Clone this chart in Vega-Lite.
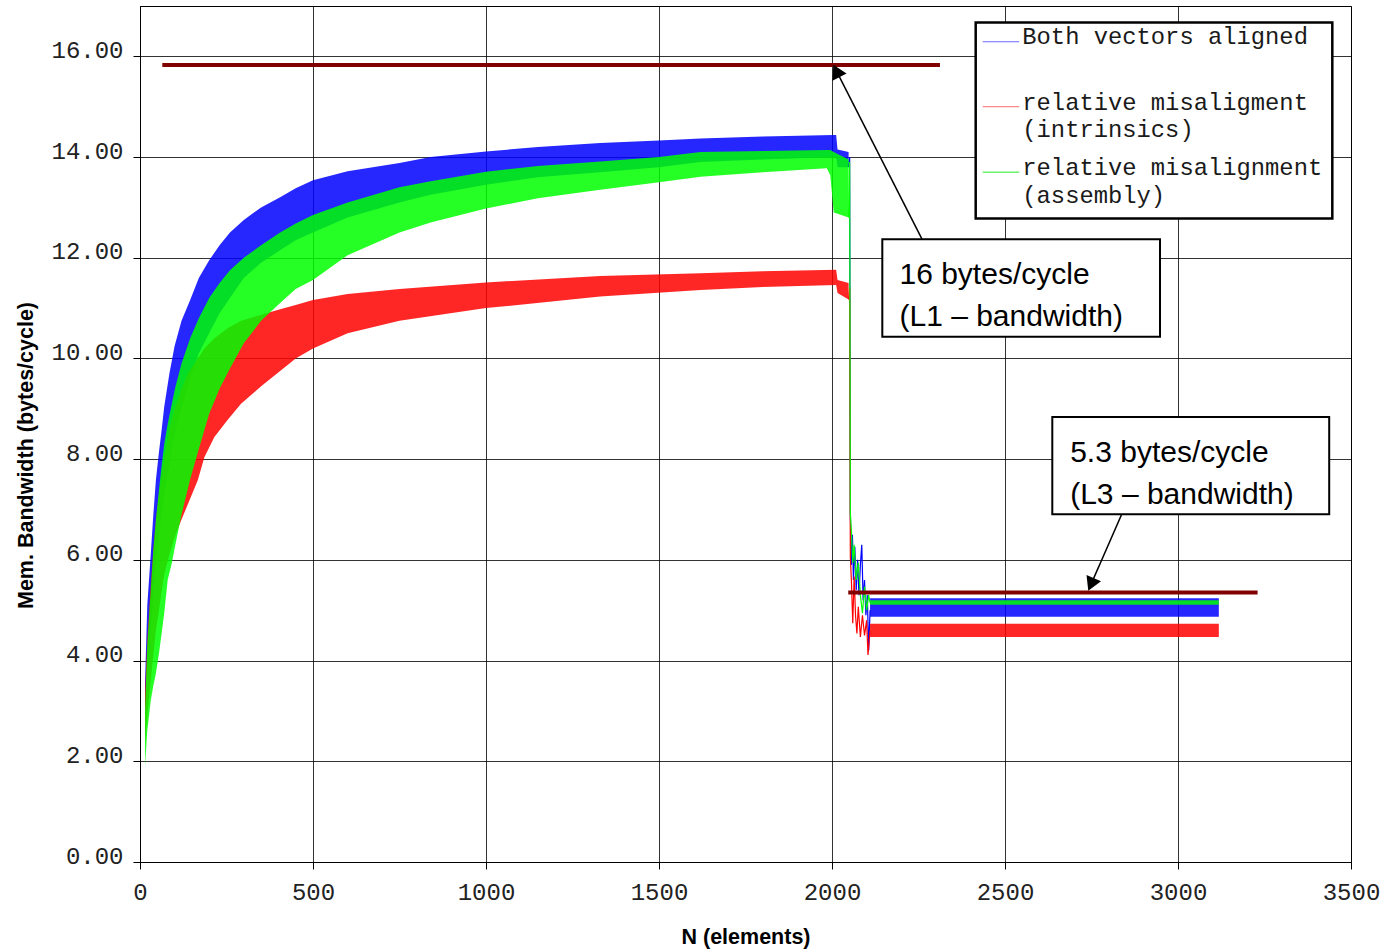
{
  "$schema": "https://vega.github.io/schema/vega-lite/v6.json",
  "width": 1211,
  "height": 856,
  "autosize": {"type": "none"},
  "padding": {"left": 140, "top": 6, "right": 33, "bottom": 90},
  "background": "white",
  "config": {
    "view": {"stroke": "#000", "strokeWidth": 1},
    "axis": {
      "labelFont": "Liberation Mono", "labelFontSize": 24, "labelColor": "#222",
      "tickColor": "#000", "tickSize": 7, "domainColor": "#000",
      "gridColor": "#000", "gridOpacity": 0.8,
      "titleFont": "Liberation Sans", "titleFontSize": 21.5, "titleFontWeight": "bold", "titleColor": "#000",
      "labelOverlap": false, "labelFlush": false
    }
  },
  "datasets": {
    "blueBand": [
      {"seg":1,"n":14.5,"lo":2.9,"hi":3.55},{"seg":1,"n":21,"lo":3.6,"hi":5.1},{"seg":1,"n":31,"lo":4.6,"hi":6.1},
      {"seg":1,"n":38.5,"lo":5.3,"hi":6.89},{"seg":1,"n":46,"lo":5.9,"hi":7.59},{"seg":1,"n":55,"lo":6.5,"hi":8.15},
      {"seg":1,"n":63,"lo":6.9,"hi":8.61},{"seg":1,"n":70,"lo":7.3,"hi":9.04},{"seg":1,"n":85,"lo":7.9,"hi":9.7},
      {"seg":1,"n":100,"lo":8.5,"hi":10.25},{"seg":1,"n":120,"lo":9.0,"hi":10.75},{"seg":1,"n":145,"lo":9.6,"hi":11.16},
      {"seg":1,"n":170,"lo":10.1,"hi":11.6},{"seg":1,"n":200,"lo":10.5,"hi":11.95},{"seg":1,"n":230,"lo":10.9,"hi":12.25},
      {"seg":1,"n":260,"lo":11.2,"hi":12.5},{"seg":1,"n":300,"lo":11.6,"hi":12.75},{"seg":1,"n":350,"lo":11.9,"hi":13.0},
      {"seg":1,"n":405,"lo":12.15,"hi":13.2},{"seg":1,"n":450,"lo":12.35,"hi":13.38},{"seg":1,"n":500,"lo":12.5,"hi":13.54},
      {"seg":1,"n":600,"lo":12.8,"hi":13.72},{"seg":1,"n":750,"lo":13.1,"hi":13.88},{"seg":1,"n":840,"lo":13.25,"hi":14.0},
      {"seg":1,"n":1000,"lo":13.45,"hi":14.11},{"seg":1,"n":1150,"lo":13.6,"hi":14.2},{"seg":1,"n":1330,"lo":13.7,"hi":14.28},
      {"seg":1,"n":1500,"lo":13.8,"hi":14.33},{"seg":1,"n":1620,"lo":13.9,"hi":14.37},{"seg":1,"n":1800,"lo":13.95,"hi":14.41},
      {"seg":1,"n":2005,"lo":14.0,"hi":14.44},{"seg":1,"n":2012,"lo":14.0,"hi":14.44},{"seg":1,"n":2016,"lo":13.8,"hi":14.15},
      {"seg":1,"n":2048,"lo":13.8,"hi":14.1},
      {"seg":2,"n":2110,"lo":4.87,"hi":5.24},{"seg":2,"n":2600,"lo":4.87,"hi":5.24},{"seg":2,"n":3118,"lo":4.87,"hi":5.24}
    ],
    "redBand": [
      {"seg":1,"n":14.5,"lo":2.36,"hi":3.35},{"seg":1,"n":21,"lo":2.9,"hi":4.4},{"seg":1,"n":31,"lo":3.6,"hi":5.5},
      {"seg":1,"n":38.5,"lo":4.1,"hi":6.2},{"seg":1,"n":46,"lo":4.6,"hi":6.8},{"seg":1,"n":55,"lo":5.0,"hi":7.3},
      {"seg":1,"n":63,"lo":5.4,"hi":7.7},{"seg":1,"n":70,"lo":5.7,"hi":8.0},{"seg":1,"n":85,"lo":6.1,"hi":8.6},
      {"seg":1,"n":100,"lo":6.45,"hi":9.0},{"seg":1,"n":120,"lo":6.8,"hi":9.4},{"seg":1,"n":138,"lo":7.1,"hi":9.7},
      {"seg":1,"n":167,"lo":7.58,"hi":10.0},{"seg":1,"n":186,"lo":8.04,"hi":10.2},{"seg":1,"n":215,"lo":8.44,"hi":10.4},
      {"seg":1,"n":253,"lo":8.78,"hi":10.6},{"seg":1,"n":292,"lo":9.1,"hi":10.75},{"seg":1,"n":350,"lo":9.45,"hi":10.87},
      {"seg":1,"n":405,"lo":9.75,"hi":10.98},{"seg":1,"n":450,"lo":10.0,"hi":11.06},{"seg":1,"n":500,"lo":10.2,"hi":11.16},
      {"seg":1,"n":600,"lo":10.5,"hi":11.28},{"seg":1,"n":750,"lo":10.75,"hi":11.38},{"seg":1,"n":1000,"lo":11.0,"hi":11.51},
      {"seg":1,"n":1330,"lo":11.23,"hi":11.64},{"seg":1,"n":1620,"lo":11.36,"hi":11.69},{"seg":1,"n":1800,"lo":11.42,"hi":11.73},
      {"seg":1,"n":2012,"lo":11.46,"hi":11.76},{"seg":1,"n":2016,"lo":11.3,"hi":11.56},{"seg":1,"n":2048,"lo":11.17,"hi":11.5},
      {"seg":2,"n":2110,"lo":4.47,"hi":4.73},{"seg":2,"n":2600,"lo":4.47,"hi":4.73},{"seg":2,"n":3118,"lo":4.47,"hi":4.73}
    ],
    "greenBand": [
      {"seg":1,"n":14.5,"lo":1.9,"hi":3.0},{"seg":1,"n":21,"lo":2.6,"hi":4.3},{"seg":1,"n":31,"lo":3.2,"hi":5.4},
      {"seg":1,"n":38.5,"lo":3.5,"hi":6.2},{"seg":1,"n":46,"lo":3.75,"hi":6.8},{"seg":1,"n":55,"lo":4.15,"hi":7.4},
      {"seg":1,"n":63,"lo":4.57,"hi":7.9},{"seg":1,"n":70,"lo":4.94,"hi":8.3},{"seg":1,"n":80,"lo":5.6,"hi":8.7},
      {"seg":1,"n":92,"lo":5.94,"hi":9.1},{"seg":1,"n":101,"lo":6.26,"hi":9.4},{"seg":1,"n":120,"lo":6.9,"hi":9.9},
      {"seg":1,"n":145,"lo":7.6,"hi":10.4},{"seg":1,"n":170,"lo":8.2,"hi":10.8},{"seg":1,"n":200,"lo":8.9,"hi":11.2},
      {"seg":1,"n":230,"lo":9.4,"hi":11.5},{"seg":1,"n":260,"lo":9.8,"hi":11.75},{"seg":1,"n":300,"lo":10.3,"hi":12.0},
      {"seg":1,"n":350,"lo":10.75,"hi":12.25},{"seg":1,"n":405,"lo":11.1,"hi":12.5},{"seg":1,"n":450,"lo":11.38,"hi":12.68},
      {"seg":1,"n":500,"lo":11.56,"hi":12.85},{"seg":1,"n":600,"lo":12.05,"hi":13.1},{"seg":1,"n":750,"lo":12.5,"hi":13.4},
      {"seg":1,"n":840,"lo":12.7,"hi":13.52},{"seg":1,"n":1000,"lo":12.98,"hi":13.71},{"seg":1,"n":1150,"lo":13.18,"hi":13.82},
      {"seg":1,"n":1330,"lo":13.35,"hi":13.91},{"seg":1,"n":1500,"lo":13.5,"hi":14.0},{"seg":1,"n":1620,"lo":13.61,"hi":14.1},
      {"seg":1,"n":1800,"lo":13.7,"hi":14.12},{"seg":1,"n":1985,"lo":13.78,"hi":14.14},{"seg":1,"n":1995,"lo":13.64,"hi":14.14},
      {"seg":1,"n":2005,"lo":12.9,"hi":14.1},{"seg":1,"n":2048,"lo":12.8,"hi":13.95},
      {"seg":2,"n":2110,"lo":5.11,"hi":5.2},{"seg":2,"n":2600,"lo":5.11,"hi":5.2},{"seg":2,"n":3118,"lo":5.11,"hi":5.2}
    ],
    "blueDrop": [
      {"n":2048,"v":13.8},{"n":2051,"v":14.0},{"n":2053,"v":6.93},{"n":2056,"v":5.9},{"n":2059,"v":6.5},{"n":2062,"v":5.6},
      {"n":2066,"v":6.26},{"n":2070,"v":5.4},{"n":2074,"v":6.0},{"n":2078,"v":5.3},{"n":2082,"v":5.9},{"n":2086,"v":6.3},
      {"n":2090,"v":5.2},{"n":2094,"v":5.6},{"n":2098,"v":4.9},{"n":2102,"v":5.3},{"n":2106,"v":4.2},{"n":2110,"v":5.0}
    ],
    "redDrop": [
      {"n":2048,"v":11.17},{"n":2051,"v":11.4},{"n":2053,"v":6.06},{"n":2056,"v":5.6},{"n":2060,"v":4.74},{"n":2064,"v":5.67},
      {"n":2068,"v":4.9},{"n":2072,"v":4.54},{"n":2076,"v":5.07},{"n":2082,"v":4.47},{"n":2088,"v":4.9},{"n":2094,"v":4.5},
      {"n":2100,"v":4.8},{"n":2104,"v":4.11},{"n":2110,"v":4.6}
    ],
    "greenDrop": [
      {"n":2048,"v":12.8},{"n":2051,"v":13.9},{"n":2053,"v":6.93},{"n":2056,"v":6.59},{"n":2060,"v":5.94},{"n":2064,"v":6.3},
      {"n":2070,"v":5.6},{"n":2076,"v":5.94},{"n":2082,"v":5.3},{"n":2088,"v":4.94},{"n":2094,"v":5.47},{"n":2100,"v":5.0},
      {"n":2106,"v":5.3},{"n":2110,"v":5.15}
    ]
  },
  "layer": [
    {
      "data": {"name": "blueBand"},
      "mark": {"type": "area", "color": "#0000ff", "opacity": 0.85},
      "encoding": {
        "x": {"field": "n", "type": "quantitative", "scale": {"domain": [0, 3500], "nice": false},
          "axis": {"title": "N (elements)", "values": [0,500,1000,1500,2000,2500,3000,3500], "format": "d",
            "labelPadding": 11, "titleY": 81, "titleBaseline": "alphabetic"}},
        "y": {"field": "hi", "type": "quantitative", "scale": {"domain": [0, 17], "nice": false},
          "axis": {"title": "Mem. Bandwidth (bytes/cycle)", "values": [0,2,4,6,8,10,12,14,16], "format": ".2f",
            "labelPadding": 10, "labelOffset": -6, "titleX": -108, "titleY": 449, "titleAngle": 270,
            "titleAlign": "center", "titleBaseline": "alphabetic"}},
        "y2": {"field": "lo"},
        "detail": {"field": "seg"}
      }
    },
    {
      "data": {"name": "blueDrop"},
      "mark": {"type": "line", "color": "#0000ff", "strokeWidth": 1.2},
      "encoding": {"x": {"field": "n", "type": "quantitative"}, "y": {"field": "v", "type": "quantitative"}}
    },
    {
      "data": {"name": "redBand"},
      "mark": {"type": "area", "color": "#ff0000", "opacity": 0.85},
      "encoding": {"x": {"field": "n", "type": "quantitative"}, "y": {"field": "hi", "type": "quantitative"}, "y2": {"field": "lo"}, "detail": {"field": "seg"}}
    },
    {
      "data": {"name": "redDrop"},
      "mark": {"type": "line", "color": "#ff0000", "strokeWidth": 1.2},
      "encoding": {"x": {"field": "n", "type": "quantitative"}, "y": {"field": "v", "type": "quantitative"}}
    },
    {
      "data": {"name": "greenBand"},
      "mark": {"type": "area", "color": "#00ff00", "opacity": 0.85},
      "encoding": {"x": {"field": "n", "type": "quantitative"}, "y": {"field": "hi", "type": "quantitative"}, "y2": {"field": "lo"}, "detail": {"field": "seg"}}
    },
    {
      "data": {"name": "greenDrop"},
      "mark": {"type": "line", "color": "#00ff00", "strokeWidth": 1.2},
      "encoding": {"x": {"field": "n", "type": "quantitative"}, "y": {"field": "v", "type": "quantitative"}}
    },
    {
      "data": {"values": [{}]},
      "mark": {"type": "rule", "color": "#800000", "strokeWidth": 4},
      "encoding": {"x": {"datum": 64.5, "type": "quantitative"}, "x2": {"datum": 2312}, "y": {"datum": 15.83, "type": "quantitative"}}
    },
    {
      "data": {"values": [{}]},
      "mark": {"type": "rule", "color": "#800000", "strokeWidth": 4},
      "encoding": {"x": {"datum": 2047, "type": "quantitative"}, "x2": {"datum": 3230}, "y": {"datum": 5.35, "type": "quantitative"}}
    },
    {
      "data": {"values": [{}]},
      "mark": {"type": "rect", "fill": "#ffffff", "stroke": "#000", "strokeWidth": 2.5},
      "encoding": {"x": {"datum": 2415.3, "type": "quantitative"}, "x2": {"datum": 3446}, "y": {"datum": 16.67, "type": "quantitative"}, "y2": {"datum": 12.78}}
    },
    {
      "data": {"values": [{}]},
      "mark": {"type": "rule", "color": "#6a6aff", "strokeWidth": 1},
      "encoding": {"x": {"datum": 2435.5, "type": "quantitative"}, "x2": {"datum": 2541}, "y": {"datum": 16.29, "type": "quantitative"}}
    },
    {
      "data": {"values": [{}]},
      "mark": {"type": "rule", "color": "#ff6a6a", "strokeWidth": 1},
      "encoding": {"x": {"datum": 2435.5, "type": "quantitative"}, "x2": {"datum": 2541}, "y": {"datum": 15.0, "type": "quantitative"}}
    },
    {
      "data": {"values": [{}]},
      "mark": {"type": "rule", "color": "#22ee22", "strokeWidth": 1},
      "encoding": {"x": {"datum": 2435.5, "type": "quantitative"}, "x2": {"datum": 2541}, "y": {"datum": 13.70, "type": "quantitative"}}
    },
    {
      "data": {"values": [{}]},
      "mark": {"type": "text", "text": "Both vectors aligned", "align": "left", "baseline": "alphabetic", "font": "Liberation Mono", "fontSize": 23.8, "color": "#1a1a1a"},
      "encoding": {"x": {"datum": 2550, "type": "quantitative"}, "y": {"datum": 16.245, "type": "quantitative"}}
    },
    {
      "data": {"values": [{}]},
      "mark": {"type": "text", "text": "relative misaligment", "align": "left", "baseline": "alphabetic", "font": "Liberation Mono", "fontSize": 23.8, "color": "#1a1a1a"},
      "encoding": {"x": {"datum": 2550, "type": "quantitative"}, "y": {"datum": 14.93, "type": "quantitative"}}
    },
    {
      "data": {"values": [{}]},
      "mark": {"type": "text", "text": "(intrinsics)", "align": "left", "baseline": "alphabetic", "font": "Liberation Mono", "fontSize": 23.8, "color": "#1a1a1a"},
      "encoding": {"x": {"datum": 2550, "type": "quantitative"}, "y": {"datum": 14.40, "type": "quantitative"}}
    },
    {
      "data": {"values": [{}]},
      "mark": {"type": "text", "text": "relative misalignment", "align": "left", "baseline": "alphabetic", "font": "Liberation Mono", "fontSize": 23.8, "color": "#1a1a1a"},
      "encoding": {"x": {"datum": 2550, "type": "quantitative"}, "y": {"datum": 13.64, "type": "quantitative"}}
    },
    {
      "data": {"values": [{}]},
      "mark": {"type": "text", "text": "(assembly)", "align": "left", "baseline": "alphabetic", "font": "Liberation Mono", "fontSize": 23.8, "color": "#1a1a1a"},
      "encoding": {"x": {"datum": 2550, "type": "quantitative"}, "y": {"datum": 13.09, "type": "quantitative"}}
    },
    {
      "data": {"values": [{}]},
      "mark": {"type": "rect", "fill": "#ffffff", "stroke": "#000", "strokeWidth": 2},
      "encoding": {"x": {"datum": 2145.4, "type": "quantitative"}, "x2": {"datum": 2948}, "y": {"datum": 12.37, "type": "quantitative"}, "y2": {"datum": 10.43}}
    },
    {
      "data": {"values": [{}]},
      "mark": {"type": "text", "text": "16 bytes/cycle", "align": "left", "baseline": "alphabetic", "font": "Liberation Sans", "fontSize": 30, "color": "#000"},
      "encoding": {"x": {"datum": 2195, "type": "quantitative"}, "y": {"datum": 11.48, "type": "quantitative"}}
    },
    {
      "data": {"values": [{}]},
      "mark": {"type": "text", "text": "(L1 – bandwidth)", "align": "left", "baseline": "alphabetic", "font": "Liberation Sans", "fontSize": 30, "color": "#000"},
      "encoding": {"x": {"datum": 2195, "type": "quantitative"}, "y": {"datum": 10.645, "type": "quantitative"}}
    },
    {
      "data": {"values": [{}]},
      "mark": {"type": "rect", "fill": "#ffffff", "stroke": "#000", "strokeWidth": 2},
      "encoding": {"x": {"datum": 2636.7, "type": "quantitative"}, "x2": {"datum": 3437}, "y": {"datum": 8.84, "type": "quantitative"}, "y2": {"datum": 6.905}}
    },
    {
      "data": {"values": [{}]},
      "mark": {"type": "text", "text": "5.3 bytes/cycle", "align": "left", "baseline": "alphabetic", "font": "Liberation Sans", "fontSize": 30, "color": "#000"},
      "encoding": {"x": {"datum": 2688.4, "type": "quantitative"}, "y": {"datum": 7.95, "type": "quantitative"}}
    },
    {
      "data": {"values": [{}]},
      "mark": {"type": "text", "text": "(L3 – bandwidth)", "align": "left", "baseline": "alphabetic", "font": "Liberation Sans", "fontSize": 30, "color": "#000"},
      "encoding": {"x": {"datum": 2688.4, "type": "quantitative"}, "y": {"datum": 7.11, "type": "quantitative"}}
    },
    {
      "data": {"values": [{}]},
      "mark": {"type": "rule", "color": "#000", "strokeWidth": 1.5},
      "encoding": {"x": {"datum": 2260.1, "type": "quantitative"}, "y": {"datum": 12.37, "type": "quantitative"}, "x2": {"datum": 2012.7}, "y2": {"datum": 15.71}}
    },
    {
      "data": {"values": [{}]},
      "mark": {"type": "point", "shape": "triangle-up", "filled": true, "color": "#000", "size": 250, "angle": 333, "opacity": 1},
      "encoding": {"x": {"datum": 2012.7, "type": "quantitative"}, "y": {"datum": 15.71, "type": "quantitative"}}
    },
    {
      "data": {"values": [{}]},
      "mark": {"type": "rule", "color": "#000", "strokeWidth": 1.5},
      "encoding": {"x": {"datum": 2837.3, "type": "quantitative"}, "y": {"datum": 6.905, "type": "quantitative"}, "x2": {"datum": 2748.6}, "y2": {"datum": 5.513}}
    },
    {
      "data": {"values": [{}]},
      "mark": {"type": "point", "shape": "triangle-up", "filled": true, "color": "#000", "size": 250, "angle": 203.6, "opacity": 1},
      "encoding": {"x": {"datum": 2748.6, "type": "quantitative"}, "y": {"datum": 5.513, "type": "quantitative"}}
    }
  ]
}
